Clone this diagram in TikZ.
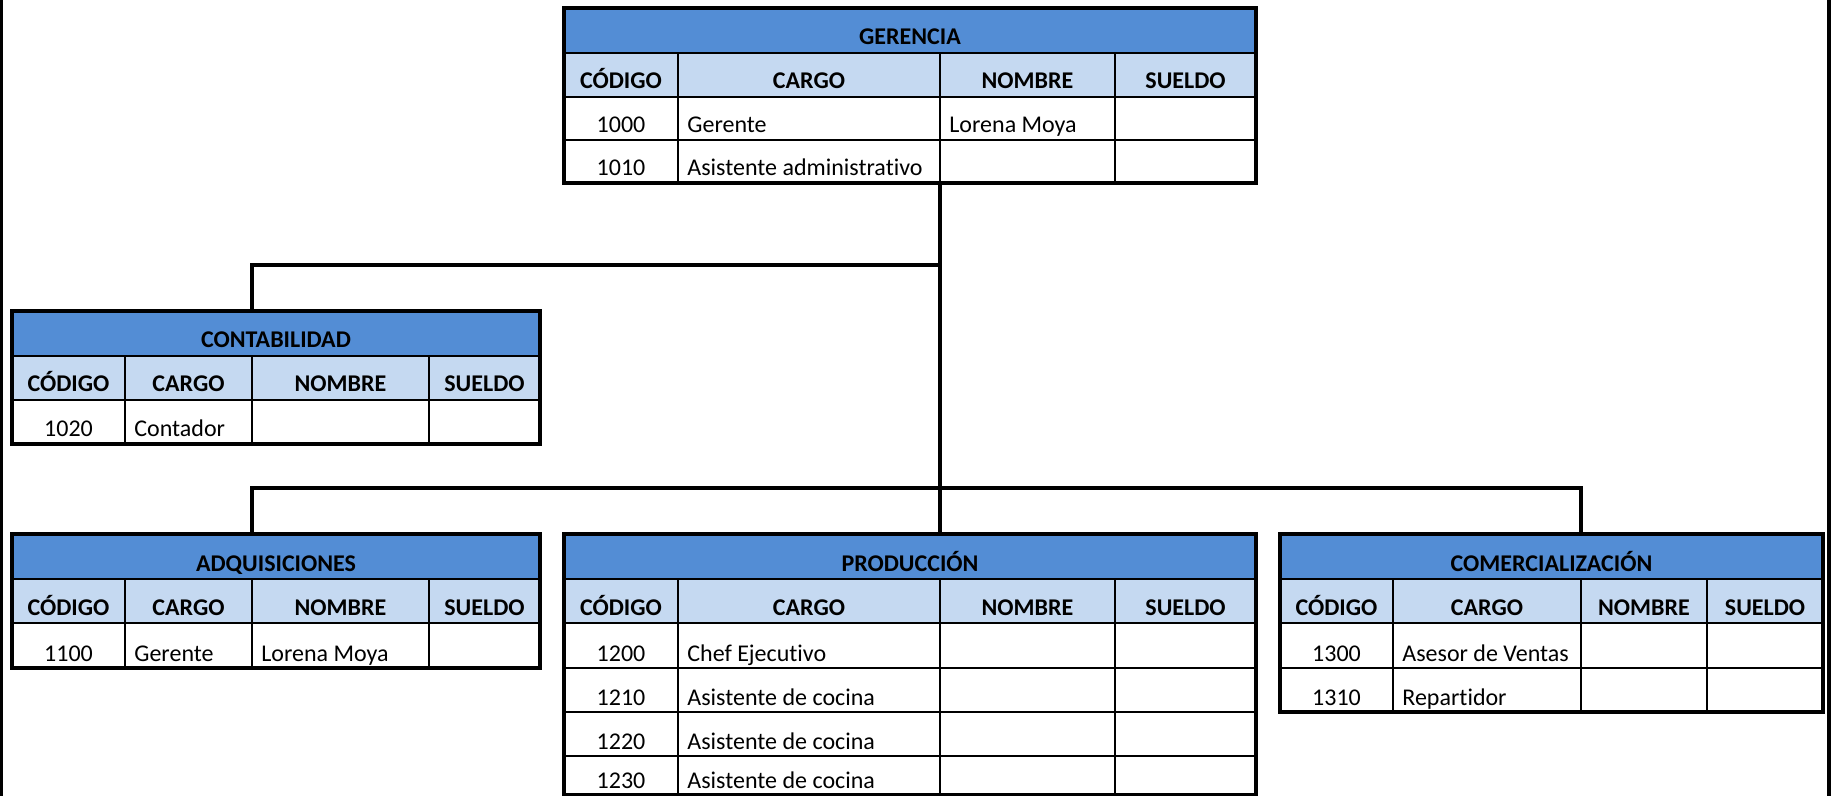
\documentclass[tikz,border=0pt]{standalone}
\usepackage{fontspec}
\setmainfont{Carlito}[Ligatures=NoCommon]
\definecolor{titleblue}{RGB}{83,141,213}
\definecolor{headblue}{RGB}{197,217,241}
\tikzset{
  outerline/.style={line width=1.6pt, line cap=rect},
  innerline/.style={line width=1.4pt},
  conn/.style={line width=1.6pt},
  titletext/.style={anchor=base, inner sep=0pt, font=\fontsize{12}{14}\selectfont\bfseries},
  headtext/.style={anchor=base, inner sep=0pt, font=\fontsize{12}{14}\selectfont\bfseries},
  codetext/.style={anchor=base, inner sep=0pt, font=\fontsize{12}{14}\selectfont},
  celltext/.style={anchor=base west, inner sep=0pt, font=\fontsize{12}{14}\selectfont},
}
% #1 name, #2 x0, #3 c1, #4 c2, #5 c3, #6 x4, #7 ytop, #8 ybottom, #9 title
\newcommand\orgtbl[9]{%
  \fill[titleblue] (#2,#7) rectangle (#6,#7+45);
  \fill[headblue] (#2,#7+45) rectangle (#6,#7+89);
  \node[titletext] (#1-title) at ({(#2+#6)/2},#7+37) {#9};
  \node[headtext] (#1-h1) at ({(#2+#3)/2},#7+81) {CÓDIGO};
  \node[headtext] (#1-h2) at ({(#3+#4)/2},#7+81) {CARGO};
  \node[headtext] (#1-h3) at ({(#4+#5)/2},#7+81) {NOMBRE};
  \node[headtext] (#1-h4) at ({(#5+#6)/2},#7+81) {SUELDO};
  \draw[innerline] (#2,#7+45) -- (#6,#7+45);
  \draw[innerline] (#2,#7+89) -- (#6,#7+89);
  \draw[innerline] (#3,#7+45) -- (#3,#8);
  \draw[innerline] (#4,#7+45) -- (#4,#8);
  \draw[innerline] (#5,#7+45) -- (#5,#8);
  \draw[outerline] (#2,#7) rectangle (#6,#8);
  \coordinate (#1-n) at (#4,#7);
  \coordinate (#1-s) at (#4,#8);
}
% #1 name, #2 x0, #3 c1, #4 c2, #5 x4, #6 ybottom, #7 code, #8 cargo, #9 nombre
\newcommand\orgrow[9]{%
  \draw[innerline] (#2,#6) -- (#5,#6);
  \node[codetext] (#1-c) at ({(#2+#3)/2},#6-7) {#7};
  \node[celltext] (#1-g) at (#3+9,#6-7) {#8};
  \node[celltext] (#1-m) at (#4+9,#6-7) {#9};
}
\begin{document}
\begin{tikzpicture}[x=0.5pt,y=-0.5pt]
\useasboundingbox (0,0) rectangle (1831,796);
\fill[white] (0,0) rectangle (1831,796);
\draw[conn] (1.5,-5) -- (1.5,801);
\draw[conn] (1829,-5) -- (1829,801);

% GERENCIA
\orgtbl{G}{564}{678}{940}{1115}{1256}{8}{183}{GERENCIA}
\orgrow{G1}{564}{678}{940}{1256}{140}{1000}{Gerente}{Lorena Moya}
\orgrow{G2}{564}{678}{940}{1256}{183}{1010}{Asistente administrativo}{}
\draw[outerline] (564,8) rectangle (1256,183);

% CONTABILIDAD
\orgtbl{C}{12}{125}{252}{429}{540}{311}{444}{CONTABILIDAD}
\orgrow{C1}{12}{125}{252}{540}{444}{1020}{Contador}{}
\draw[outerline] (12,311) rectangle (540,444);

% ADQUISICIONES
\orgtbl{A}{12}{125}{252}{429}{540}{534}{668}{ADQUISICIONES}
\orgrow{A1}{12}{125}{252}{540}{668}{1100}{Gerente}{Lorena Moya}
\draw[outerline] (12,534) rectangle (540,668);

% PRODUCCION
\orgtbl{P}{564}{678}{940}{1115}{1256}{534}{795}{PRODUCCIÓN}
\orgrow{P1}{564}{678}{940}{1256}{668}{1200}{Chef Ejecutivo}{}
\orgrow{P2}{564}{678}{940}{1256}{712}{1210}{Asistente de cocina}{}
\orgrow{P3}{564}{678}{940}{1256}{756}{1220}{Asistente de cocina}{}
\orgrow{P4}{564}{678}{940}{1256}{795}{1230}{Asistente de cocina}{}
\draw[outerline] (564,534) rectangle (1256,795);

% COMERCIALIZACION
\orgtbl{K}{1280}{1393}{1581}{1707}{1823}{534}{712}{COMERCIALIZACIÓN}
\orgrow{K1}{1280}{1393}{1581}{1823}{668}{1300}{Asesor de Ventas}{}
\orgrow{K2}{1280}{1393}{1581}{1823}{712}{1310}{Repartidor}{}
\draw[outerline] (1280,534) rectangle (1823,712);

% connectors
\coordinate (j1) at (940,265);
\coordinate (j2) at (940,488);
\draw[conn] (G-s) -- (P-n);
\draw[conn] (j1) -| (C-n);
\draw[conn] (j2) -| (A-n);
\draw[conn] (j2) -| (K-n);
\end{tikzpicture}
\end{document}
